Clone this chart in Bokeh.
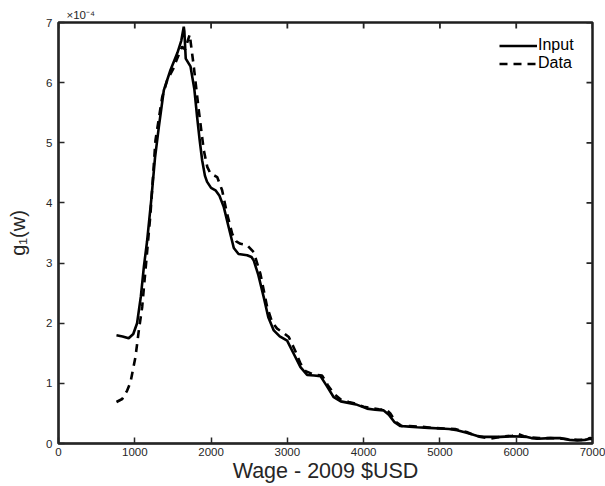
from bokeh.embed import file_html
from bokeh.models import Legend, LegendItem, LinearAxis, Range1d, FixedTicker
from bokeh.plotting import figure
from bokeh.resources import INLINE

# Wage grid (2009 $USD) and densities g1(w), in units of 1e-4
wage_input = [760, 840, 920, 980, 1030, 1080, 1120, 1160, 1215, 1265, 1315, 1380, 1468,
              1560, 1610, 1642, 1650, 1668, 1730, 1780, 1817, 1850, 1883, 1920, 1948,
              2000, 2058, 2110, 2167, 2230, 2298, 2360, 2473, 2530, 2560, 2620, 2691,
              2750, 2822, 2900, 2997, 3080, 3172, 3259, 3350, 3434, 3520, 3608, 3700,
              3783, 3900, 4045, 4150, 4263, 4330, 4400, 4482, 4600, 4701, 4850, 5007,
              5120, 5225, 5350, 5450, 5531, 5650, 5793, 5950, 6143, 6200, 6274, 6450,
              6576, 6700, 6800, 6900, 6972, 7000]
g1_input = [1.80, 1.78, 1.75, 1.82, 2.00, 2.45, 2.95, 3.35, 4.04, 4.75, 5.26, 5.87, 6.21,
            6.50, 6.70, 6.93, 6.85, 6.40, 6.27, 5.90, 5.43, 5.05, 4.71, 4.45, 4.35,
            4.25, 4.21, 4.12, 3.93, 3.60, 3.25, 3.15, 3.13, 3.10, 3.04, 2.80, 2.43,
            2.10, 1.88, 1.78, 1.71, 1.50, 1.27, 1.14, 1.13, 1.12, 0.95, 0.77, 0.70,
            0.68, 0.65, 0.58, 0.56, 0.55, 0.48, 0.36, 0.29, 0.28, 0.27, 0.26, 0.25,
            0.24, 0.22, 0.18, 0.14, 0.11, 0.11, 0.11, 0.12, 0.11, 0.09, 0.08, 0.09,
            0.09, 0.06, 0.05, 0.06, 0.08, 0.07]

wage_data = [760, 835, 900, 944, 1009, 1053, 1097, 1140, 1206, 1271, 1359, 1425, 1500,
             1556, 1621, 1660, 1700, 1720, 1740, 1773, 1839, 1904, 1950, 1992, 2080,
             2145, 2210, 2276, 2330, 2385, 2470, 2560, 2647, 2735, 2800, 2866, 2950,
             3019, 3100, 3172, 3240, 3303, 3380, 3456, 3530, 3608, 3700, 3805, 3900,
             4000, 4100, 4200, 4300, 4350, 4420, 4500, 4600, 4750, 4900, 5050, 5200,
             5350, 5450, 5550, 5650, 5750, 5850, 5950, 6020, 6100, 6200, 6300, 6450,
             6600, 6700, 6800, 6900, 6970, 7000]
g1_data = [0.69, 0.74, 0.88, 1.02, 1.44, 1.88, 2.27, 2.88, 3.82, 5.04, 5.76, 6.04, 6.22,
           6.40, 6.60, 6.55, 6.72, 6.80, 6.60, 6.27, 5.54, 4.88, 4.60, 4.49, 4.43,
           4.21, 3.82, 3.49, 3.36, 3.32, 3.30, 3.18, 2.82, 2.27, 2.02, 1.91, 1.84,
           1.77, 1.55, 1.33, 1.20, 1.17, 1.14, 1.13, 0.97, 0.83, 0.73, 0.69, 0.66,
           0.61, 0.59, 0.57, 0.56, 0.50, 0.36, 0.29, 0.29, 0.28, 0.26, 0.25, 0.24,
           0.19, 0.14, 0.11, 0.08, 0.10, 0.12, 0.13, 0.16, 0.12, 0.10, 0.09, 0.09,
           0.08, 0.07, 0.06, 0.06, 0.09, 0.08]

x_ticks = [0, 1000, 2000, 3000, 4000, 5000, 6000, 7000]
y_ticks = [0, 1, 2, 3, 4, 5, 6, 7]

FONT = "Liberation Sans"
INK = "#262626"
X_MIN, X_MAX, Y_MIN, Y_MAX = 0, 7000, 0, 7
FRAME_W, FRAME_H = 534, 421
TICK_PX = 6
EDGE_W = 1.5

p = figure(width=605, height=486, output_backend="svg", toolbar_location=None,
           x_range=Range1d(X_MIN, X_MAX), y_range=Range1d(Y_MIN, Y_MAX),
           min_border_left=58, min_border_right=13, min_border_top=22,
           min_border_bottom=43, x_axis_location=None, y_axis_location=None)
p.background_fill_color = "white"
p.border_fill_color = "white"
p.grid.visible = False
p.outline_line_color = "#1e1e1e"
p.outline_line_width = 2.5

# Exponent marker of the y values, shown above the top-left corner
p.title.text = "\u00d710\u207b\u2074"
p.title.align = "left"
p.title.offset = 8
p.title.standoff = 4
p.title.text_font = FONT
p.title.text_font_style = "normal"
p.title.text_font_size = "11.5px"
p.title.text_color = INK


def style_axis(ax):
    ax.axis_line_color = INK
    ax.axis_line_width = EDGE_W
    ax.major_tick_in = TICK_PX
    ax.major_tick_out = 0
    ax.major_tick_line_color = INK
    ax.major_tick_line_width = EDGE_W
    ax.minor_tick_line_color = None
    ax.major_label_text_font = FONT
    ax.major_label_text_color = INK
    ax.major_label_text_font_size = "11.5px"


xb = LinearAxis(ticker=FixedTicker(ticks=x_ticks))
style_axis(xb)
xb.major_label_standoff = 4
xb.axis_label = "Wage - 2009 $USD"
xb.axis_label_text_font = FONT
xb.axis_label_text_font_style = "normal"
xb.axis_label_text_font_size = "21.5px"
xb.axis_label_text_color = INK
xb.axis_label_standoff = 0
p.add_layout(xb, "below")

yl = LinearAxis(ticker=FixedTicker(ticks=y_ticks))
style_axis(yl)
yl.major_label_standoff = 6
yl.axis_label = "g\u2081(w)"
yl.axis_label_text_font = FONT
yl.axis_label_text_font_style = "normal"
yl.axis_label_text_font_size = "20px"
yl.axis_label_text_color = INK
yl.axis_label_standoff = 14
p.add_layout(yl, "left")

# Inward ticks on the top and right edges of the box
dy = TICK_PX * (Y_MAX - Y_MIN) / FRAME_H
dx = TICK_PX * (X_MAX - X_MIN) / FRAME_W
p.segment(x0=x_ticks, y0=[Y_MAX] * len(x_ticks), x1=x_ticks,
          y1=[Y_MAX - dy] * len(x_ticks), line_color=INK, line_width=1.8)
p.segment(x0=[X_MAX] * len(y_ticks), y0=y_ticks, x1=[X_MAX - dx] * len(y_ticks),
          y1=y_ticks, line_color=INK, line_width=1.8)

r_input = p.line(wage_input, g1_input, line_color="black", line_width=2.6)
r_data = p.line(wage_data, g1_data, line_color="black", line_width=2.6,
                line_dash="8 6")

legend = Legend(items=[LegendItem(label="Input", renderers=[r_input]),
                       LegendItem(label="Data", renderers=[r_data])],
                location="top_right")
legend.border_line_color = None
legend.background_fill_alpha = 0
legend.label_text_font = FONT
legend.label_text_font_size = "16px"
legend.label_text_color = "black"
legend.glyph_width = 38
legend.glyph_height = 17
legend.label_height = 17
legend.label_width = 40
legend.label_standoff = 1
legend.spacing = 0
legend.padding = 3
legend.margin = 14
p.add_layout(legend)

open("out.html", "w").write(file_html(p, INLINE))
